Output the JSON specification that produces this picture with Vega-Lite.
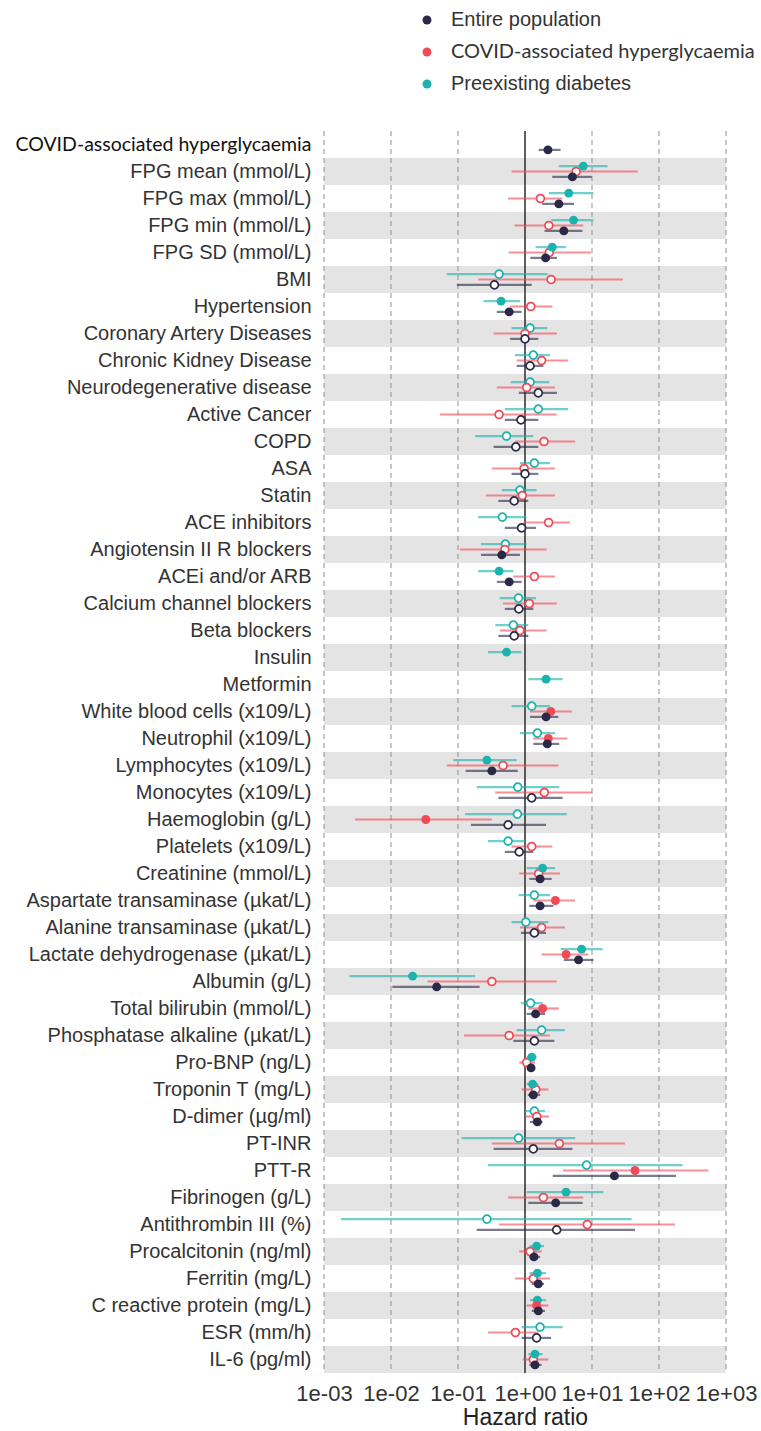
{
  "$schema": "https://vega.github.io/schema/vega-lite/v6.json",
  "width": 402,
  "height": 1242,
  "autosize": {"type": "none"},
  "padding": {"left": 324, "top": 131, "right": 35, "bottom": 58},
  "background": "white",
  "config": {"view": {"stroke": null}, "font": "Liberation Sans"},
  "datasets": {
    "bands": [
      {"label": "FPG mean (mmol/L)"}, {"label": "FPG min  (mmol/L)"}, {"label": "BMI"},
      {"label": "Coronary Artery Diseases"}, {"label": "Neurodegenerative disease"}, {"label": "COPD"},
      {"label": "Statin"}, {"label": "Angiotensin II R blockers"}, {"label": "Calcium channel blockers"},
      {"label": "Insulin"}, {"label": "White blood cells (x109/L)"}, {"label": "Lymphocytes (x109/L)"},
      {"label": "Haemoglobin (g/L)"}, {"label": "Creatinine (mmol/L)"}, {"label": "Alanine transaminase (µkat/L)"},
      {"label": "Albumin (g/L)"}, {"label": "Phosphatase alkaline (µkat/L)"}, {"label": "Troponin T (mg/L)"},
      {"label": "PT-INR"}, {"label": "Fibrinogen (g/L)"}, {"label": "Procalcitonin (ng/ml)"},
      {"label": "C reactive protein (mg/L)"}, {"label": "IL-6 (pg/ml)"}
    ],
    "grid": [{"v": 0.001}, {"v": 0.01}, {"v": 0.1}, {"v": 10}, {"v": 100}, {"v": 1000}],
    "d": [
      {"label": "COVID-associated hyperglycaemia", "g": "E", "hr": 2.2, "lo": 1.6, "hi": 3.4, "sig": true},
      {"label": "FPG mean (mmol/L)", "g": "P", "hr": 7.4, "lo": 3.2, "hi": 17, "sig": true},
      {"label": "FPG mean (mmol/L)", "g": "C", "hr": 5.8, "lo": 0.63, "hi": 48, "sig": false},
      {"label": "FPG mean (mmol/L)", "g": "E", "hr": 5.1, "lo": 2.55, "hi": 9.9, "sig": true},
      {"label": "FPG max (mmol/L)", "g": "P", "hr": 4.5, "lo": 2.27, "hi": 10.5, "sig": true},
      {"label": "FPG max (mmol/L)", "g": "C", "hr": 1.7, "lo": 0.56, "hi": 3.6, "sig": false},
      {"label": "FPG max (mmol/L)", "g": "E", "hr": 3.2, "lo": 1.8, "hi": 5.4, "sig": true},
      {"label": "FPG min  (mmol/L)", "g": "P", "hr": 5.3, "lo": 2.47, "hi": 10.5, "sig": true},
      {"label": "FPG min  (mmol/L)", "g": "C", "hr": 2.27, "lo": 0.7, "hi": 7.4, "sig": false},
      {"label": "FPG min  (mmol/L)", "g": "E", "hr": 3.8, "lo": 1.96, "hi": 7.2, "sig": true},
      {"label": "FPG SD  (mmol/L)", "g": "P", "hr": 2.55, "lo": 1.44, "hi": 4.1, "sig": true},
      {"label": "FPG SD  (mmol/L)", "g": "C", "hr": 2.3, "lo": 0.57, "hi": 9.6, "sig": false},
      {"label": "FPG SD  (mmol/L)", "g": "E", "hr": 2.03, "lo": 1.2, "hi": 3.0, "sig": true},
      {"label": "BMI", "g": "P", "hr": 0.41, "lo": 0.068, "hi": 2.18, "sig": false},
      {"label": "BMI", "g": "C", "hr": 2.45, "lo": 0.2, "hi": 29, "sig": false},
      {"label": "BMI", "g": "E", "hr": 0.35, "lo": 0.096, "hi": 1.26, "sig": false},
      {"label": "Hypertension", "g": "P", "hr": 0.44, "lo": 0.24, "hi": 0.84, "sig": true},
      {"label": "Hypertension", "g": "C", "hr": 1.22, "lo": 0.6, "hi": 2.56, "sig": false},
      {"label": "Hypertension", "g": "E", "hr": 0.58, "lo": 0.38, "hi": 0.89, "sig": true},
      {"label": "Coronary Artery Diseases", "g": "P", "hr": 1.19, "lo": 0.63, "hi": 2.15, "sig": false},
      {"label": "Coronary Artery Diseases", "g": "C", "hr": 1.0, "lo": 0.34, "hi": 3.0, "sig": false},
      {"label": "Coronary Artery Diseases", "g": "E", "hr": 1.0, "lo": 0.6, "hi": 1.58, "sig": false},
      {"label": "Chronic Kidney Disease", "g": "P", "hr": 1.33, "lo": 0.71, "hi": 2.36, "sig": false},
      {"label": "Chronic Kidney Disease", "g": "C", "hr": 1.77, "lo": 0.75, "hi": 4.4, "sig": false},
      {"label": "Chronic Kidney Disease", "g": "E", "hr": 1.19, "lo": 0.75, "hi": 1.88, "sig": false},
      {"label": "Neurodegenerative disease", "g": "P", "hr": 1.19, "lo": 0.61, "hi": 2.3, "sig": false},
      {"label": "Neurodegenerative disease", "g": "C", "hr": 1.06, "lo": 0.38, "hi": 2.8, "sig": false},
      {"label": "Neurodegenerative disease", "g": "E", "hr": 1.58, "lo": 0.81, "hi": 3.0, "sig": false},
      {"label": "Active Cancer", "g": "P", "hr": 1.58, "lo": 0.5, "hi": 4.4, "sig": false},
      {"label": "Active Cancer", "g": "C", "hr": 0.41, "lo": 0.054, "hi": 2.97, "sig": false},
      {"label": "Active Cancer", "g": "E", "hr": 0.87, "lo": 0.5, "hi": 1.58, "sig": false},
      {"label": "COPD", "g": "P", "hr": 0.53, "lo": 0.18, "hi": 1.33, "sig": false},
      {"label": "COPD", "g": "C", "hr": 1.92, "lo": 0.71, "hi": 5.6, "sig": false},
      {"label": "COPD", "g": "E", "hr": 0.73, "lo": 0.34, "hi": 1.58, "sig": false},
      {"label": "ASA", "g": "P", "hr": 1.38, "lo": 0.84, "hi": 2.36, "sig": false},
      {"label": "ASA", "g": "C", "hr": 0.97, "lo": 0.32, "hi": 2.8, "sig": false},
      {"label": "ASA", "g": "E", "hr": 1.0, "lo": 0.63, "hi": 1.58, "sig": false},
      {"label": "Statin", "g": "P", "hr": 0.84, "lo": 0.45, "hi": 1.49, "sig": false},
      {"label": "Statin", "g": "C", "hr": 0.91, "lo": 0.26, "hi": 2.8, "sig": false},
      {"label": "Statin", "g": "E", "hr": 0.69, "lo": 0.4, "hi": 1.12, "sig": false},
      {"label": "ACE inhibitors", "g": "P", "hr": 0.46, "lo": 0.2, "hi": 1.05, "sig": false},
      {"label": "ACE inhibitors", "g": "C", "hr": 2.25, "lo": 0.95, "hi": 4.7, "sig": false},
      {"label": "ACE inhibitors", "g": "E", "hr": 0.89, "lo": 0.5, "hi": 1.46, "sig": false},
      {"label": "Angiotensin II R blockers", "g": "P", "hr": 0.51, "lo": 0.22, "hi": 1.06, "sig": false},
      {"label": "Angiotensin II R blockers", "g": "C", "hr": 0.5, "lo": 0.107, "hi": 2.1, "sig": false},
      {"label": "Angiotensin II R blockers", "g": "E", "hr": 0.45, "lo": 0.22, "hi": 0.84, "sig": true},
      {"label": "ACEi and/or ARB", "g": "P", "hr": 0.41, "lo": 0.2, "hi": 0.67, "sig": true},
      {"label": "ACEi and/or ARB", "g": "C", "hr": 1.38, "lo": 0.67, "hi": 2.8, "sig": false},
      {"label": "ACEi and/or ARB", "g": "E", "hr": 0.58, "lo": 0.38, "hi": 0.89, "sig": true},
      {"label": "Calcium channel blockers", "g": "P", "hr": 0.8, "lo": 0.42, "hi": 1.46, "sig": false},
      {"label": "Calcium channel blockers", "g": "C", "hr": 1.16, "lo": 0.47, "hi": 2.97, "sig": false},
      {"label": "Calcium channel blockers", "g": "E", "hr": 0.81, "lo": 0.5, "hi": 1.33, "sig": false},
      {"label": "Beta blockers", "g": "P", "hr": 0.67, "lo": 0.36, "hi": 1.12, "sig": false},
      {"label": "Beta blockers", "g": "C", "hr": 0.84, "lo": 0.42, "hi": 2.1, "sig": false},
      {"label": "Beta blockers", "g": "E", "hr": 0.69, "lo": 0.4, "hi": 1.12, "sig": false},
      {"label": "Insulin", "g": "P", "hr": 0.53, "lo": 0.28, "hi": 0.89, "sig": true},
      {"label": "Metformin", "g": "P", "hr": 2.06, "lo": 1.12, "hi": 3.65, "sig": true},
      {"label": "White blood cells (x109/L)", "g": "P", "hr": 1.26, "lo": 0.63, "hi": 2.36, "sig": false},
      {"label": "White blood cells (x109/L)", "g": "C", "hr": 2.42, "lo": 1.19, "hi": 5.0, "sig": true},
      {"label": "White blood cells (x109/L)", "g": "E", "hr": 2.06, "lo": 1.19, "hi": 3.15, "sig": true},
      {"label": "Neutrophil (x109/L)", "g": "P", "hr": 1.53, "lo": 0.84, "hi": 2.8, "sig": false},
      {"label": "Neutrophil (x109/L)", "g": "C", "hr": 2.23, "lo": 1.33, "hi": 4.3, "sig": true},
      {"label": "Neutrophil (x109/L)", "g": "E", "hr": 2.15, "lo": 1.33, "hi": 3.25, "sig": true},
      {"label": "Lymphocytes (x109/L)", "g": "P", "hr": 0.27, "lo": 0.085, "hi": 0.75, "sig": true},
      {"label": "Lymphocytes (x109/L)", "g": "C", "hr": 0.47, "lo": 0.068, "hi": 3.15, "sig": false},
      {"label": "Lymphocytes (x109/L)", "g": "E", "hr": 0.32, "lo": 0.13, "hi": 0.78, "sig": true},
      {"label": "Monocytes  (x109/L)", "g": "P", "hr": 0.78, "lo": 0.19, "hi": 3.25, "sig": false},
      {"label": "Monocytes  (x109/L)", "g": "C", "hr": 1.94, "lo": 0.36, "hi": 10.2, "sig": false},
      {"label": "Monocytes  (x109/L)", "g": "E", "hr": 1.26, "lo": 0.4, "hi": 3.65, "sig": false},
      {"label": "Haemoglobin (g/L)", "g": "P", "hr": 0.77, "lo": 0.127, "hi": 4.2, "sig": false},
      {"label": "Haemoglobin (g/L)", "g": "C", "hr": 0.033, "lo": 0.0029, "hi": 0.32, "sig": true},
      {"label": "Haemoglobin (g/L)", "g": "E", "hr": 0.56, "lo": 0.156, "hi": 2.06, "sig": false},
      {"label": "Platelets (x109/L)", "g": "P", "hr": 0.56, "lo": 0.28, "hi": 1.0, "sig": false},
      {"label": "Platelets (x109/L)", "g": "C", "hr": 1.26, "lo": 0.63, "hi": 2.56, "sig": false},
      {"label": "Platelets (x109/L)", "g": "E", "hr": 0.82, "lo": 0.5, "hi": 1.33, "sig": false},
      {"label": "Creatinine (mmol/L)", "g": "P", "hr": 1.83, "lo": 1.06, "hi": 2.8, "sig": true},
      {"label": "Creatinine (mmol/L)", "g": "C", "hr": 1.6, "lo": 0.82, "hi": 3.33, "sig": false},
      {"label": "Creatinine (mmol/L)", "g": "E", "hr": 1.68, "lo": 1.16, "hi": 2.5, "sig": true},
      {"label": "Aspartate transaminase (µkat/L)", "g": "P", "hr": 1.38, "lo": 0.8, "hi": 2.36, "sig": false},
      {"label": "Aspartate transaminase (µkat/L)", "g": "C", "hr": 2.84, "lo": 1.33, "hi": 5.6, "sig": true},
      {"label": "Aspartate transaminase (µkat/L)", "g": "E", "hr": 1.68, "lo": 1.16, "hi": 2.65, "sig": true},
      {"label": "Alanine transaminase (µkat/L)", "g": "P", "hr": 1.03, "lo": 0.63, "hi": 2.23, "sig": false},
      {"label": "Alanine transaminase (µkat/L)", "g": "C", "hr": 1.77, "lo": 0.84, "hi": 3.95, "sig": false},
      {"label": "Alanine transaminase (µkat/L)", "g": "E", "hr": 1.38, "lo": 0.87, "hi": 2.06, "sig": false},
      {"label": "Lactate dehydrogenase (µkat/L)", "g": "P", "hr": 7.0, "lo": 3.4, "hi": 14.4, "sig": true},
      {"label": "Lactate dehydrogenase (µkat/L)", "g": "C", "hr": 4.1, "lo": 1.77, "hi": 8.8, "sig": true},
      {"label": "Lactate dehydrogenase (µkat/L)", "g": "E", "hr": 6.3, "lo": 3.8, "hi": 10.5, "sig": true},
      {"label": "Albumin (g/L)", "g": "P", "hr": 0.021, "lo": 0.0024, "hi": 0.18, "sig": true},
      {"label": "Albumin (g/L)", "g": "C", "hr": 0.32, "lo": 0.035, "hi": 2.97, "sig": false},
      {"label": "Albumin (g/L)", "g": "E", "hr": 0.048, "lo": 0.0105, "hi": 0.21, "sig": true},
      {"label": "Total bilirubin (mmol/L)", "g": "P", "hr": 1.21, "lo": 0.87, "hi": 1.83, "sig": false},
      {"label": "Total bilirubin (mmol/L)", "g": "C", "hr": 1.83, "lo": 1.12, "hi": 3.2, "sig": true},
      {"label": "Total bilirubin (mmol/L)", "g": "E", "hr": 1.44, "lo": 1.06, "hi": 1.99, "sig": true},
      {"label": "Phosphatase alkaline (µkat/L)", "g": "P", "hr": 1.77, "lo": 0.75, "hi": 3.95, "sig": false},
      {"label": "Phosphatase alkaline (µkat/L)", "g": "C", "hr": 0.58, "lo": 0.123, "hi": 2.36, "sig": false},
      {"label": "Phosphatase alkaline (µkat/L)", "g": "E", "hr": 1.38, "lo": 0.67, "hi": 2.74, "sig": false},
      {"label": "Pro-BNP (ng/L)", "g": "P", "hr": 1.26, "lo": 1.06, "hi": 1.49, "sig": true},
      {"label": "Pro-BNP (ng/L)", "g": "C", "hr": 1.06, "lo": 0.82, "hi": 1.41, "sig": false},
      {"label": "Pro-BNP (ng/L)", "g": "E", "hr": 1.23, "lo": 1.08, "hi": 1.41, "sig": true},
      {"label": "Troponin T (mg/L)", "g": "P", "hr": 1.3, "lo": 1.06, "hi": 1.58, "sig": true},
      {"label": "Troponin T (mg/L)", "g": "C", "hr": 1.45, "lo": 0.89, "hi": 2.23, "sig": false},
      {"label": "Troponin T (mg/L)", "g": "E", "hr": 1.33, "lo": 1.1, "hi": 1.68, "sig": true},
      {"label": "D-dimer (µg/ml)", "g": "P", "hr": 1.38, "lo": 1.0, "hi": 1.99, "sig": false},
      {"label": "D-dimer (µg/ml)", "g": "C", "hr": 1.5, "lo": 1.0, "hi": 2.28, "sig": false},
      {"label": "D-dimer (µg/ml)", "g": "E", "hr": 1.53, "lo": 1.19, "hi": 1.83, "sig": true},
      {"label": "PT-INR", "g": "P", "hr": 0.8, "lo": 0.113, "hi": 5.6, "sig": false},
      {"label": "PT-INR", "g": "C", "hr": 3.26, "lo": 0.32, "hi": 31, "sig": false},
      {"label": "PT-INR", "g": "E", "hr": 1.33, "lo": 0.34, "hi": 5.1, "sig": false},
      {"label": "PTT-R", "g": "P", "hr": 8.3, "lo": 0.28, "hi": 224, "sig": false},
      {"label": "PTT-R", "g": "C", "hr": 43.8, "lo": 3.7, "hi": 547, "sig": true},
      {"label": "PTT-R", "g": "E", "hr": 21.6, "lo": 2.6, "hi": 179, "sig": true},
      {"label": "Fibrinogen (g/L)", "g": "P", "hr": 4.1, "lo": 1.06, "hi": 14.8, "sig": true},
      {"label": "Fibrinogen (g/L)", "g": "C", "hr": 1.88, "lo": 0.56, "hi": 7.4, "sig": false},
      {"label": "Fibrinogen (g/L)", "g": "E", "hr": 2.87, "lo": 1.12, "hi": 7.25, "sig": true},
      {"label": "Antithrombin III (%)", "g": "P", "hr": 0.27, "lo": 0.0018, "hi": 39, "sig": false},
      {"label": "Antithrombin III (%)", "g": "C", "hr": 8.5, "lo": 0.41, "hi": 173, "sig": false},
      {"label": "Antithrombin III (%)", "g": "E", "hr": 2.97, "lo": 0.19, "hi": 44, "sig": false},
      {"label": "Procalcitonin (ng/ml)", "g": "P", "hr": 1.49, "lo": 1.16, "hi": 1.92, "sig": true},
      {"label": "Procalcitonin (ng/ml)", "g": "C", "hr": 1.19, "lo": 0.82, "hi": 1.77, "sig": false},
      {"label": "Procalcitonin (ng/ml)", "g": "E", "hr": 1.36, "lo": 1.16, "hi": 1.68, "sig": true},
      {"label": "Ferritin  (mg/L)", "g": "P", "hr": 1.53, "lo": 1.16, "hi": 2.06, "sig": true},
      {"label": "Ferritin  (mg/L)", "g": "C", "hr": 1.33, "lo": 0.71, "hi": 2.36, "sig": false},
      {"label": "Ferritin  (mg/L)", "g": "E", "hr": 1.58, "lo": 1.26, "hi": 1.92, "sig": true},
      {"label": "C reactive protein (mg/L)", "g": "P", "hr": 1.53, "lo": 1.19, "hi": 2.06, "sig": true},
      {"label": "C reactive protein (mg/L)", "g": "C", "hr": 1.49, "lo": 1.06, "hi": 2.23, "sig": true},
      {"label": "C reactive protein (mg/L)", "g": "E", "hr": 1.58, "lo": 1.26, "hi": 1.99, "sig": true},
      {"label": "ESR (mm/h)", "g": "P", "hr": 1.68, "lo": 0.89, "hi": 3.65, "sig": false},
      {"label": "ESR (mm/h)", "g": "C", "hr": 0.72, "lo": 0.28, "hi": 1.58, "sig": false},
      {"label": "ESR (mm/h)", "g": "E", "hr": 1.49, "lo": 0.89, "hi": 2.45, "sig": false},
      {"label": "IL-6 (pg/ml)", "g": "P", "hr": 1.41, "lo": 1.12, "hi": 1.83, "sig": true},
      {"label": "IL-6 (pg/ml)", "g": "C", "hr": 1.33, "lo": 0.92, "hi": 2.23, "sig": false},
      {"label": "IL-6 (pg/ml)", "g": "E", "hr": 1.41, "lo": 1.16, "hi": 1.77, "sig": true}
    ]
  },
  "layer": [
    {
      "data": {"name": "bands"},
      "mark": {"type": "rect", "color": "#e4e4e4"},
      "encoding": {
        "y": {
          "field": "label", "type": "nominal",
          "scale": {"domain": ["COVID-associated hyperglycaemia", "FPG mean (mmol/L)", "FPG max (mmol/L)", "FPG min  (mmol/L)", "FPG SD  (mmol/L)", "BMI", "Hypertension", "Coronary Artery Diseases", "Chronic Kidney Disease", "Neurodegenerative disease", "Active Cancer", "COPD", "ASA", "Statin", "ACE inhibitors", "Angiotensin II R blockers", "ACEi and/or ARB", "Calcium channel blockers", "Beta blockers", "Insulin", "Metformin", "White blood cells (x109/L)", "Neutrophil (x109/L)", "Lymphocytes (x109/L)", "Monocytes  (x109/L)", "Haemoglobin (g/L)", "Platelets (x109/L)", "Creatinine (mmol/L)", "Aspartate transaminase (µkat/L)", "Alanine transaminase (µkat/L)", "Lactate dehydrogenase (µkat/L)", "Albumin (g/L)", "Total bilirubin (mmol/L)", "Phosphatase alkaline (µkat/L)", "Pro-BNP (ng/L)", "Troponin T (mg/L)", "D-dimer (µg/ml)", "PT-INR", "PTT-R", "Fibrinogen (g/L)", "Antithrombin III (%)", "Procalcitonin (ng/ml)", "Ferritin  (mg/L)", "C reactive protein (mg/L)", "ESR (mm/h)", "IL-6 (pg/ml)"], "paddingInner": 0, "paddingOuter": 0},
          "axis": {
            "title": null, "domain": false, "ticks": false, "grid": false,
            "labelPadding": 13, "labelLimit": 400,
            "labelFontSize": {"condition": {"test": "datum.value === 'COVID-associated hyperglycaemia'", "value": 19.5}, "value": 20},
            "labelColor": {"condition": {"test": "datum.value === 'COVID-associated hyperglycaemia'", "value": "#111111"}, "value": "#333333"},
            "labelFont": {"condition": {"test": "datum.value === 'COVID-associated hyperglycaemia'", "value": "Lato"}, "value": "Liberation Sans"}
          }
        },
        "x": {"datum": 0.001, "type": "quantitative", "scale": {"type": "log", "domain": [0.001, 1000], "nice": false}},
        "x2": {"datum": 1000}
      }
    },
    {
      "data": {"name": "grid"},
      "mark": {"type": "rule", "color": "#8f8f8f", "strokeDash": [5, 4], "strokeWidth": 1},
      "encoding": {
        "x": {"field": "v", "type": "quantitative", "scale": {"type": "log", "domain": [0.001, 1000], "nice": false},
          "axis": {"values": [0.001, 0.01, 0.1, 1, 10, 100, 1000], "grid": false, "domain": false, "ticks": false,
            "labelExpr": "'1e' + (round(log(datum.value)/LN10) < 0 ? '-' : '+') + pad(abs(round(log(datum.value)/LN10)) + '', 2, '0', 'left')",
            "labelFontSize": 22, "labelColor": "#333333", "labelPadding": 10, "labelFlush": false, "labelOverlap": false,
            "title": "Hazard ratio", "titleFontSize": 23, "titleFontWeight": "normal", "titleColor": "#222222", "titlePadding": 2}}
      }
    },
    {
      "data": {"values": [{}]},
      "mark": {"type": "rule", "color": "#2b2b2b", "strokeWidth": 1.5},
      "encoding": {"x": {"datum": 1, "type": "quantitative"}}
    },
    {
      "data": {"name": "d"},
      "mark": {"type": "rule", "strokeWidth": 2.2, "strokeOpacity": 0.62},
      "encoding": {
        "y": {"field": "label", "type": "nominal"},
        "yOffset": {"field": "g", "type": "nominal", "scale": {"domain": ["P", "C", "E"], "paddingInner": 0, "paddingOuter": 1.2}},
        "x": {"field": "lo", "type": "quantitative"},
        "x2": {"field": "hi"},
        "stroke": {"field": "g", "type": "nominal", "scale": {"domain": ["C", "P", "E"], "range": ["#f04a56", "#1cb2ad", "#2a2a48"]}, "legend": null}
      }
    },
    {
      "data": {"name": "d"},
      "transform": [{"filter": "!datum.sig"}],
      "mark": {"type": "point", "filled": false, "fill": "white", "fillOpacity": 1, "size": 62, "strokeWidth": 1.7, "opacity": 1},
      "encoding": {
        "y": {"field": "label", "type": "nominal"},
        "yOffset": {"field": "g", "type": "nominal"},
        "x": {"field": "hr", "type": "quantitative"},
        "stroke": {"field": "g", "type": "nominal", "legend": null}
      }
    },
    {
      "data": {"name": "d"},
      "transform": [{"filter": "datum.sig"}],
      "mark": {"type": "point", "filled": true, "size": 80, "opacity": 1},
      "encoding": {
        "y": {"field": "label", "type": "nominal"},
        "yOffset": {"field": "g", "type": "nominal"},
        "x": {"field": "hr", "type": "quantitative"},
        "color": {"field": "g", "type": "nominal", "scale": {"domain": ["E", "C", "P"], "range": ["#2a2a48", "#f04a56", "#1cb2ad"]},
          "legend": {"title": null, "orient": "none", "legendX": 93, "legendY": -121, "padding": 0, "symbolType": "circle", "symbolSize": 80,
            "labelFontSize": 20, "labelColor": "#333333", "rowPadding": 12, "labelOffset": 14, "labelLimit": 400,
            "labelFont": {"expr": "datum.value === 'C' ? 'Lato' : 'Liberation Sans'"},
            "labelExpr": "datum.label == 'E' ? 'Entire population' : datum.label == 'C' ? 'COVID-associated hyperglycaemia' : 'Preexisting diabetes'"}}
      }
    }
  ]
}
